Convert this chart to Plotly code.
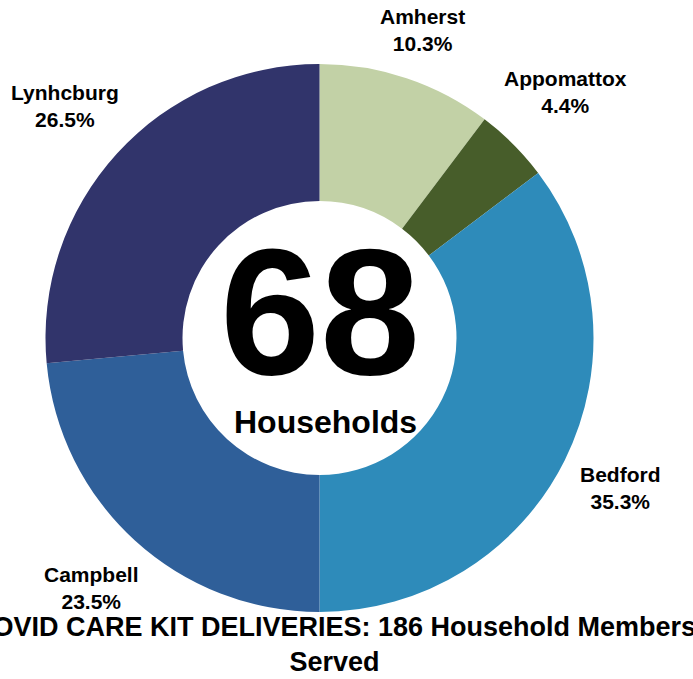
import math
import plotly.graph_objects as go

counties = ["Amherst", "Appomattox", "Bedford", "Campbell", "Lynhcburg"]
households = [7, 3, 24, 16, 18]
colors = ["#c2d1a6", "#475d2a", "#2e8bba", "#2f5f99", "#31346b"]
total_households = 68
center_label = "Households"
title_text = "COVID CARE KIT DELIVERIES: 186 Household Members<br>Served"

W, H = 693, 679
cx, cy, R = 319.5, 341.0, 274.0  # pixel centre (from bottom) and radius
LABEL_FS = 21

fig = go.Figure(go.Pie(
    labels=counties,
    values=households,
    marker=dict(colors=colors, line=dict(width=0)),
    hole=0.5,
    sort=False,
    direction="clockwise",
    rotation=0,
    textinfo="none",
    hoverinfo="label+percent",
    showlegend=False,
    domain=dict(x=[(cx - R) / W, (cx + R) / W], y=[(cy - R) / H, (cy + R) / H]),
))

annotations = []
tot = sum(households)
cum = 0
for name, v in zip(counties, households):
    mid = (cum + v / 2) / tot * 2 * math.pi
    cum += v
    hw = 0.6 * LABEL_FS * len(name) / 2
    hh = 28
    d = R + 10 + abs(math.sin(mid)) * hw + abs(math.cos(mid)) * hh
    x = (cx + d * math.sin(mid)) / W
    y = (cy + d * math.cos(mid)) / H
    annotations.append(dict(
        x=x, y=y, xref="paper", yref="paper", showarrow=False,
        text=f"<b>{name}<br>{v / tot * 100:.1f}%</b>",
        font=dict(family="Liberation Sans, Arial", size=LABEL_FS, color="#000"),
        xanchor="center", yanchor="middle", align="center",
    ))

annotations.append(dict(
    x=cx / W, y=(H - 311) / H, xref="paper", yref="paper", showarrow=False,
    text=f"<b>{total_households}</b>",
    font=dict(family="Liberation Sans, Arial", size=180, color="#000"),
    xanchor="center", yanchor="middle",
))
annotations.append(dict(
    x=(cx + 6) / W, y=(H - 422) / H, xref="paper", yref="paper", showarrow=False,
    text=f"<b>{center_label}</b>",
    font=dict(family="Liberation Sans, Arial", size=32, color="#000"),
    xanchor="center", yanchor="middle",
))
annotations.append(dict(
    x=334 / W, y=(H - 644) / H, xref="paper", yref="paper", showarrow=False,
    text=f"<b>{title_text}</b>",
    font=dict(family="Liberation Sans, Arial", size=27, color="#000"),
    xanchor="center", yanchor="middle", align="center",
))

fig.update_layout(
    width=W, height=H,
    margin=dict(l=0, r=0, t=0, b=0),
    paper_bgcolor="white", plot_bgcolor="white",
    annotations=annotations,
)

fig.write_html(
    "out.html",
    config={"displayModeBar": False},
    post_script="document.body.style.margin='0';document.body.style.overflow='hidden';",
)
